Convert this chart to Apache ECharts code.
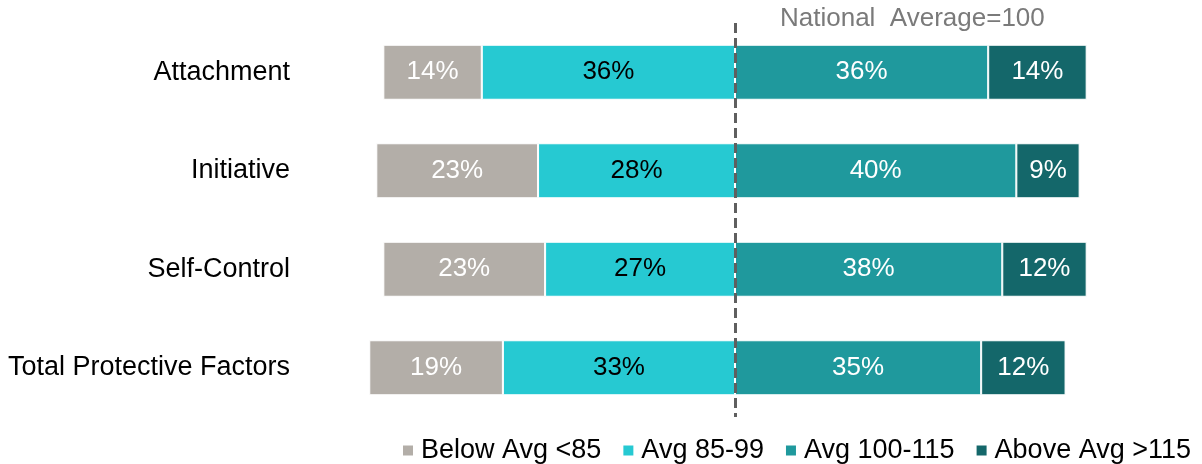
<!DOCTYPE html>
<html>
<head>
<meta charset="utf-8">
<script src="https://cdn.jsdelivr.net/npm/echarts@6/dist/echarts.min.js"></script>
<style>
html,body{margin:0;padding:0;background:#fff;}
#chart{width:1202px;height:464px;}
</style>
</head>
<body>
<div id="chart"></div>
<script>
const categories = ['Attachment', 'Initiative', 'Self-Control', 'Total Protective Factors'];
const seriesNames = ['Below Avg <85', 'Avg 85-99', 'Avg 100-115', 'Above Avg >115'];
const belowAvg = [14, 23, 23, 19];
const avg85to99 = [36, 28, 27, 33];
const avg100to115 = [36, 40, 38, 35];
const aboveAvg = [14, 9, 12, 12];
const referenceValue = 0;
const referenceText = 'National  Average=100';

const FONT = "'Liberation Sans', Arial, sans-serif";
const colors = {
  'Below Avg <85': '#B3AEA8',
  'Avg 85-99': '#26C9D2',
  'Avg 100-115': '#1F999D',
  'Above Avg >115': '#14676A'
};
const labelColors = {
  'Below Avg <85': '#ffffff',
  'Avg 85-99': '#000000',
  'Avg 100-115': '#ffffff',
  'Above Avg >115': '#ffffff'
};

function barSeries(name, values, negative) {
  return {
    name: name,
    type: 'bar',
    stack: 'total',
    barWidth: 55,
    data: values.map(v => negative ? -v : v),
    itemStyle: { color: colors[name], borderColor: '#ffffff', borderWidth: 1 },
    label: {
      show: true,
      position: 'inside',
      color: labelColors[name],
      fontFamily: FONT,
      fontSize: 26,
      formatter: p => Math.abs(p.value) + '%'
    },
    emphasis: { disabled: true }
  };
}

const s85 = barSeries('Avg 85-99', avg85to99, true);
const sBelow = barSeries('Below Avg <85', belowAvg, true);
const s100 = barSeries('Avg 100-115', avg100to115, false);
const sAbove = barSeries('Above Avg >115', aboveAvg, false);
s100.markLine = {
  silent: true,
  symbol: ['none', 'none'],
  label: { show: false },
  lineStyle: { color: '#5f5f5f', width: 3, type: [10, 5] },
  data: [{ xAxis: referenceValue }],
  z: 10
};

const chart = echarts.init(document.getElementById('chart'), null, { renderer: 'canvas' });
chart.setOption({
  animation: false,
  backgroundColor: '#ffffff',
  textStyle: { fontFamily: FONT },
  grid: { left: 313, right: 45, top: 23, bottom: 47, containLabel: false, outerBoundsMode: 'none' },
  xAxis: { type: 'value', min: -60, max: 60, show: false },
  yAxis: {
    type: 'category',
    data: categories,
    inverse: true,
    axisLine: { show: false },
    axisTick: { show: false },
    splitLine: { show: false },
    axisLabel: { fontFamily: FONT, fontSize: 27, color: '#000000', margin: 23 }
  },
  legend: {
    data: seriesNames,
    right: 6,
    top: 432,
    itemWidth: 12,
    itemHeight: 12,
    itemGap: 20,
    icon: 'rect',
    selectedMode: false,
    textStyle: { fontFamily: FONT, fontSize: 27, color: '#000000', padding: [0, 0, 0, 2] }
  },
  graphic: [{
    type: 'text',
    left: 780,
    top: 6,
    style: { text: referenceText, fontFamily: FONT, fontSize: 26, fill: '#7a7a7a' }
  }],
  series: [s85, sBelow, s100, sAbove]
});
</script>
</body>
</html>
